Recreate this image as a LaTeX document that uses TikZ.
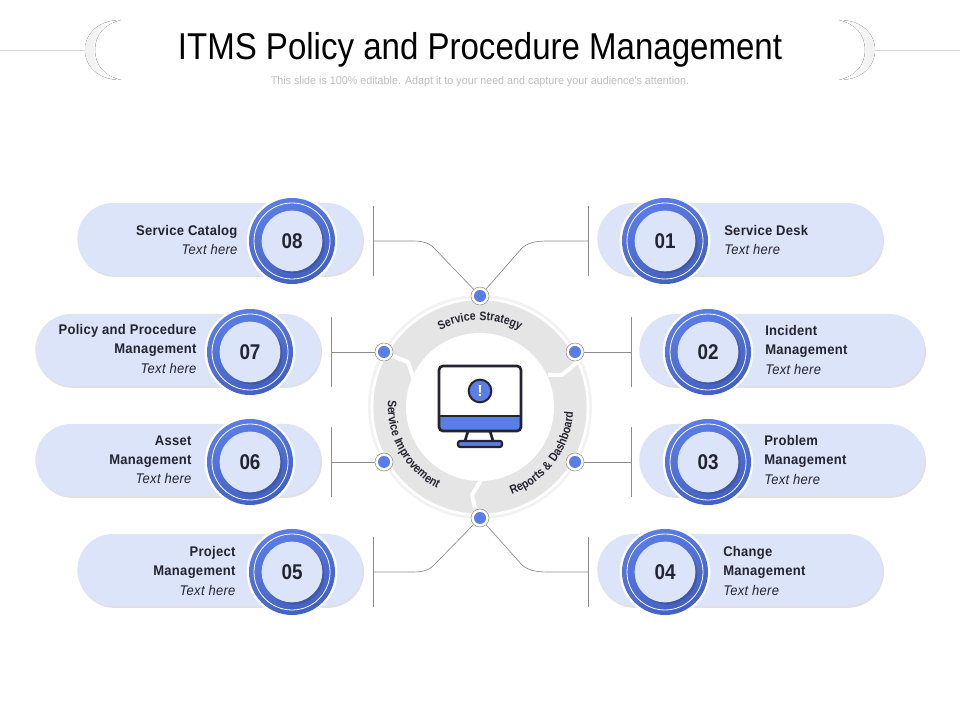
\documentclass[tikz,border=0pt]{standalone}
\usepackage{fontspec}
\usepackage{tikz}
\usepackage{xcolor}
\setmainfont{Liberation Sans}
\newfontfamily\narrowfont[FakeStretch=0.93,LetterSpace=2]{Liberation Sans}
\newfontfamily\ringfont[FakeStretch=0.86,LetterSpace=3]{Liberation Sans}
\newfontfamily\titlefont[FakeStretch=0.885]{Liberation Sans}
\newfontfamily\subfont[FakeStretch=0.96]{Liberation Sans}
\usetikzlibrary{shadows}
\usetikzlibrary{calc}
\usetikzlibrary{decorations.text}
\usetikzlibrary{positioning}
\definecolor{pillblue}{HTML}{DCE4FA}
\definecolor{ringblue}{HTML}{5B7DE6}
\definecolor{deepblue}{HTML}{4360BE}
\definecolor{inkdark}{HTML}{23242F}
\definecolor{ringgray}{HTML}{E6E5E6}
\tikzset{
  pill/.style={fill=pillblue, rounded corners=27pt, minimum width=214pt, minimum height=54pt,
    drop shadow={shadow xshift=1pt, shadow yshift=-1.4pt, xscale=0.85, opacity=0.12, fill=black}},
  halo/.style={circle, fill=white, minimum size=68pt, inner sep=0pt},
  badge/.style={circle, top color=ringblue, bottom color=deepblue, shading angle=25, minimum size=64.5pt, inner sep=0pt},
  thinring/.style={circle, draw=white, line width=0.6pt, minimum size=57pt, inner sep=0pt},
  numdisc/.style={circle, fill=pillblue, minimum size=45.5pt, inner sep=0pt, text=inkdark,
    font=\titlefont\fontsize{16}{16}\selectfont\bfseries,
    drop shadow={shadow xshift=1.5pt, shadow yshift=-1.5pt, opacity=0.55, fill=deepblue!80!black}},
  lbl/.style={text=inkdark, inner sep=0pt, font=\narrowfont\fontsize{10.5}{14.3}\selectfont},
  dot/.style={circle, draw=gray!85, fill=white, line width=0.4pt, minimum size=13.5pt, inner sep=0pt},
  dotin/.style={circle, fill=ringblue, minimum size=9pt, inner sep=0pt},
  bar/.style={draw=gray!90, line width=0.5pt},
  wire/.style={draw=gray!90, line width=0.5pt},
  gap/.style={draw=white, line width=3pt, line join=round},
  ringtext/.style={decorate, decoration={text along path, text align=center,
    text={|\ringfont\fontsize{9.2}{10}\selectfont\bfseries\color{inkdark}|#1}}},
}
\begin{document}
\begin{tikzpicture}[x=0.75pt, y=0.75pt]
  \useasboundingbox (0, 0) rectangle (960, 720);
  \fill[white] (0, 0) rectangle (960, 720);

  % header
  \draw[gray!30, line width=0.5pt] (0, 670) -- (85, 670);
  \draw[gray!30, line width=0.5pt] (875, 670) -- (960, 670);
  \fill[left color=gray!12, right color=white] (121, 700) .. controls (98, 700) and (85, 686) .. (85, 670)
    .. controls (85, 654) and (98, 640) .. (121, 640)
    .. controls (104, 644) and (95, 655) .. (95, 670)
    .. controls (95, 685) and (104, 696) .. (121, 700);
  \fill[right color=gray!12, left color=white] (839, 700) .. controls (862, 700) and (875, 686) .. (875, 670)
    .. controls (875, 654) and (862, 640) .. (839, 640)
    .. controls (856, 644) and (865, 655) .. (865, 670)
    .. controls (865, 685) and (856, 696) .. (839, 700);
  \node[font=\titlefont\fontsize{28}{28}\selectfont, text=black] (title) at (480, 670) {ITMS Policy and Procedure Management};
  \node[font=\subfont\fontsize{8.4}{10}\selectfont, text=gray!50] (subtitle) at (480, 638)
    {This slide is 100\% editable. Adapt it to your need and capture your audience's attention.};

  % pills and number badges
  \foreach \id/\px/\py/\cx/\num in {
    1/740/479/665/01, 2/782/368/708/02, 3/782/258/708/03, 4/740/148/665/04,
    5/220/148/292/05, 6/178/258/250/06, 7/178/368/250/07, 8/220/479/292/08} {
    \node[pill] (pill\id) at (\px, \py+2) {};
    \node[halo] (halo\id) at (\cx, \py) {};
    \node[badge] (badge\id) at (\cx, \py) {};
    \node[thinring] (ring\id) at (\cx, \py) {};
    \node[numdisc] (num\id) at (\cx, \py) {\num};
  }

  % labels
  \node[lbl, align=left, anchor=west] (text1) at (724, 480) {\textbf{Service Desk}\\\textit{Text here}};
  \node[lbl, align=left, anchor=west] (text2) at (765, 370) {\textbf{Incident}\\\textbf{Management}\\\textit{Text here}};
  \node[lbl, align=left, anchor=west] (text3) at (764, 260) {\textbf{Problem}\\\textbf{Management}\\\textit{Text here}};
  \node[lbl, align=left, anchor=west] (text4) at (723, 149) {\textbf{Change}\\\textbf{Management}\\\textit{Text here}};
  \node[lbl, align=right, anchor=east] (text5) at (236, 149) {\textbf{Project}\\\textbf{Management}\\\textit{Text here}};
  \node[lbl, align=right, anchor=east] (text6) at (192, 260) {\textbf{Asset}\\\textbf{Management}\\\textit{Text here}};
  \node[lbl, align=right, anchor=east] (text7) at (197, 371) {\textbf{Policy and Procedure}\\\textbf{Management}\\\textit{Text here}};
  \node[lbl, align=right, anchor=east] (text8) at (238, 480) {\textbf{Service Catalog}\\\textit{Text here}};

  % ring
  \fill[gray!10] (480, 313) circle (84pt);
  \fill[white] (480, 313) circle (82pt);
  \fill[ringgray] (480, 313) circle (80pt);
  \fill[white] (480, 313) circle (55.5pt);
  \draw[gap] (385, 367) -- (408, 358) -- (413, 343) -- (415, 337);
  \draw[gap] (580, 360) -- (562, 345) -- (548, 345);
  \draw[gap] (475, 212) -- (472, 225) -- (480, 238) -- (482, 242);
  \path[ringtext={Service Strategy}] ($(480, 313)+(122:65pt)$) arc[start angle=122, end angle=58, radius=65pt];
  \path[ringtext={Service Improvement}] ($(480, 313)+(170:69pt)$) arc[start angle=170, end angle=248, radius=69pt];
  \path[ringtext={Reports {\&} Dashboard}] ($(480, 313)+(287:70pt)$) arc[start angle=287, end angle=360, radius=70pt];

  % monitor
  \draw[inkdark, fill=white, line width=2pt] (465, 279) -- (468, 289) -- (490, 289) -- (493, 279);
  \draw[inkdark, fill=ringblue, line width=1.6pt, rounded corners=1.5pt] (458, 273) rectangle (502, 279);
  \fill[white, rounded corners=3pt] (439, 289) rectangle (521, 354);
  \fill[ringblue, rounded corners=3pt] (439, 289) rectangle (521, 304);
  \draw[inkdark, line width=2pt, rounded corners=3pt] (439, 289) rectangle (521, 354);
  \draw[inkdark, line width=2pt] (439, 304) -- (521, 304);
  \node[circle, draw=inkdark, fill=ringblue, line width=1.5pt, minimum size=17pt, inner sep=0pt,
    text=white, font=\bfseries\fontsize{12}{12}\selectfont] (alert) at (480, 329) {!};

  % bars and wires
  \foreach \id/\x/\y in {1/588/479, 2/631/368, 3/631/258, 4/588/148, 5/373/148, 6/331/258, 7/331/368, 8/373/479} {
    \coordinate (end\id) at (\x, \y);
    \draw[bar] ($(end\id)+(0, -35)$) -- ($(end\id)+(0, 35)$);
  }
  \node[dot] (dotT) at (480, 424) {};
  \node[dot] (dotTL) at (384, 368) {};
  \node[dot] (dotTR) at (575, 368) {};
  \node[dot] (dotBL) at (384, 258) {};
  \node[dot] (dotBR) at (575, 258) {};
  \node[dot] (dotB) at (480, 202) {};
  \draw[wire] (dotT) -- (522, 472) .. controls (530, 479) and (540, 479) .. (552, 479) -- (end1);
  \draw[wire] (dotT) -- (434, 472) .. controls (427, 479) and (420, 479) .. (408, 479) -- (end8);
  \draw[wire] (dotB) -- (434, 155) .. controls (427, 148) and (420, 148) .. (408, 148) -- (end5);
  \draw[wire] (dotB) -- (522, 155) .. controls (530, 148) and (540, 148) .. (552, 148) -- (end4);
  \draw[wire] (dotTR) -- (end2);
  \draw[wire] (dotBR) -- (end3);
  \draw[wire] (dotBL) -- (end6);
  \draw[wire] (dotTL) -- (end7);
  \foreach \d in {dotT, dotTL, dotTR, dotBL, dotBR, dotB} {
    \node[dotin] (in\d) at (\d) {};
  }
\end{tikzpicture}
\end{document}
